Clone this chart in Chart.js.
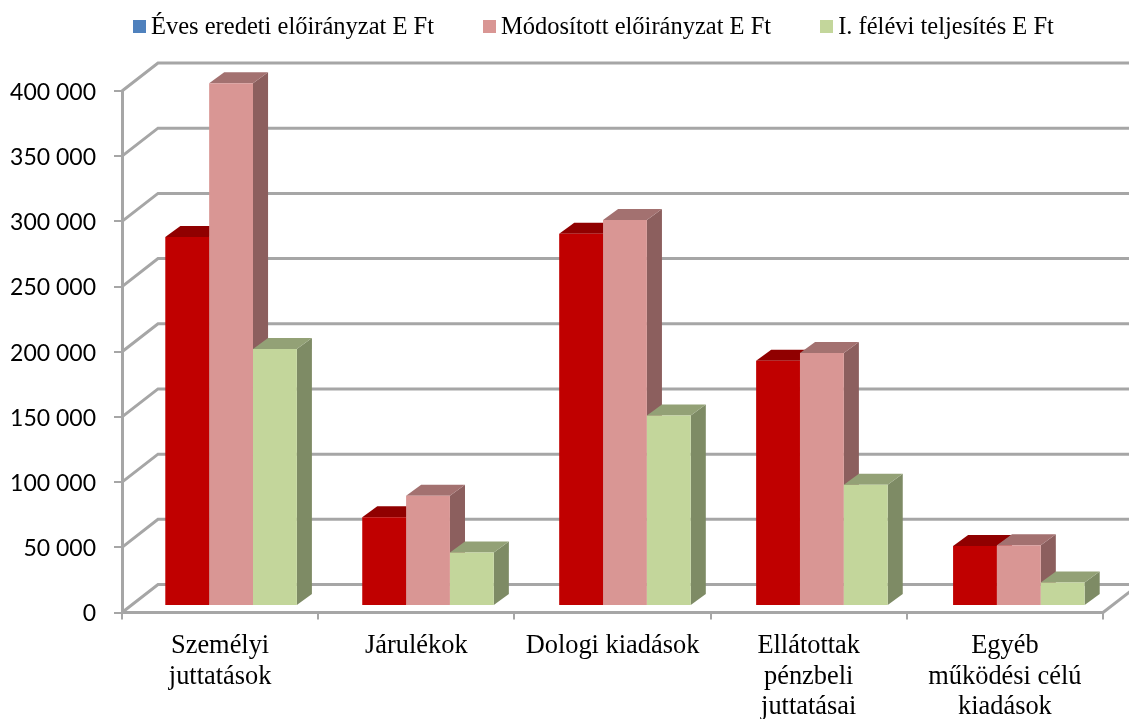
<!DOCTYPE html>
<html>
<head>
<meta charset="utf-8">
<script src="https://cdn.jsdelivr.net/npm/chart.js@4/dist/chart.umd.min.js"></script>
<style>
    body { margin:0; background:#fff; }
    #wrap { position:relative; width:1129px; height:719px; overflow:hidden; }
    #legend { position:absolute; left:133px; top:12px; display:flex; align-items:center;
        font:24.5px "Liberation Serif"; color:#000; white-space:nowrap; line-height:28px; }
    #legend span.box { display:inline-block; width:13px; height:13px; margin-right:5px; }
    #legend div { display:flex; align-items:center; margin-right:49px; }
</style>
</head>
<body>
<div id="wrap">
    <canvas id="chart" width="1129" height="719"></canvas>
    <div id="legend"></div>
</div>
<script>
/* data */

const categories = [
    ["Személyi", "juttatások"],
    "Járulékok",
    "Dologi kiadások",
    ["Ellátottak", "pénzbeli", "juttatásai"],
    ["Egyéb", "működési célú", "kiadások"]
];
const seriesNames = [
    "Éves eredeti előirányzat E Ft",
    "Módosított előirányzat E Ft",
    "I. félévi teljesítés E Ft"
];
const eredeti = [283000, 68000, 285500, 188000, 46000];
const modositott = [400800, 84500, 296000, 194000, 46500];
const teljesites = [197000, 41000, 146000, 93000, 18000];

/* colors */

const frontColors = ["#c00000", "#d99694", "#c3d69b"];
const topColors = ["#900000", "#a37170", "#93a176"];
const sideColors = ["#8f0000", "#8c5f5e", "#7e8b65"];
const legendColors = ["#4f81bd", "#d99694", "#c3d69b"];
const wallColor = "#a6a6a6";

/* 3d look */

const wallDepthX = 36, wallDepthY = 28;
const barDepthX = 15, barDepthY = 11;
const barShiftX = 10.6, barShiftY = -6.6, barStretch = 1.0038;

function drawFaces(chart, index)
{
    const ctx = chart.ctx;
    chart.getDatasetMeta(index).data.forEach(bar => {
        const left = bar.x - bar.width / 2, right = bar.x + bar.width / 2;
        ctx.fillStyle = sideColors[index];
        ctx.beginPath();
        ctx.moveTo(right, bar.y);
        ctx.lineTo(right + barDepthX, bar.y - barDepthY);
        ctx.lineTo(right + barDepthX, bar.base - barDepthY);
        ctx.lineTo(right, bar.base);
        ctx.closePath();
        ctx.fill();
        ctx.fillStyle = topColors[index];
        ctx.beginPath();
        ctx.moveTo(left, bar.y);
        ctx.lineTo(left + barDepthX, bar.y - barDepthY);
        ctx.lineTo(right + barDepthX, bar.y - barDepthY);
        ctx.lineTo(right, bar.y);
        ctx.closePath();
        ctx.fill();
    });
}

const walls = {
    id: "walls",
    beforeDraw(chart) {
        // value labels sit a little under their tick
        chart.scales.y.getLabelItems(chart.chartArea).forEach(item => {
            item.textOffset += 1.5;
        });
    },
    beforeDatasetsDraw(chart) {
        const { ctx, chartArea, scales } = chart;
        ctx.save();
        ctx.strokeStyle = wallColor;
        ctx.lineWidth = 3;
        scales.y.ticks.forEach(t => {
            const y = scales.y.getPixelForValue(t.value);
            ctx.beginPath();
            ctx.moveTo(chartArea.left, y);
            ctx.lineTo(chartArea.left + wallDepthX, y - wallDepthY);
            ctx.lineTo(chartArea.right + wallDepthX, y - wallDepthY);
            ctx.stroke();
        });
        // right edge of the floor
        ctx.beginPath();
        ctx.moveTo(chartArea.right, chartArea.bottom);
        ctx.lineTo(chartArea.right + wallDepthX, chartArea.bottom - wallDepthY);
        ctx.stroke();
        ctx.restore();

        // bars stand a bit inside the floor, first series first so the next one covers it
        ctx.save();
        ctx.transform(barStretch, 0, 0, 1,
            barShiftX + chartArea.left * (1 - barStretch), barShiftY);
        chart.data.datasets.forEach((d, i) => {
            drawFaces(chart, i);
            chart.getDatasetMeta(i).controller.draw();
        });
        ctx.restore();
        return false;
    }
};

/* legend */

seriesNames.forEach((name, i) => {
    const item = document.createElement("div");
    const box = document.createElement("span");
    box.className = "box";
    box.style.background = legendColors[i];
    item.appendChild(box);
    item.appendChild(document.createTextNode(name));
    document.getElementById("legend").appendChild(item);
});

/* chart */

const values = [eredeti, modositott, teljesites];

new Chart(document.getElementById("chart"), {
    type: "bar",
    data: {
        labels: categories,
        datasets: values.map((v, i) => ({
            label: seriesNames[i],
            data: v,
            backgroundColor: frontColors[i],
            categoryPercentage: 0.668,
            barPercentage: 1
        }))
    },
    options: {
        responsive: false,
        animation: false,
        layout: { padding: { top: 91, right: 26, left: 0, bottom: 0 } },
        plugins: { legend: { display: false }, tooltip: { enabled: false } },
        scales: {
            x: {
                afterFit: s => { s.height = 106.5; },
                border: { color: wallColor, width: 3 },
                grid: { drawOnChartArea: false, color: wallColor, lineWidth: 2, tickLength: 7 },
                ticks: {
                    color: "#000",
                    maxRotation: 0,
                    autoSkip: false,
                    padding: 12,
                    font: { family: "Liberation Serif", size: 26.4, lineHeight: 1.14 }
                }
            },
            y: {
                min: 0,
                max: 400000,
                afterFit: s => { s.width = 122; },
                border: { color: wallColor, width: 3 },
                grid: { drawOnChartArea: false, color: wallColor, lineWidth: 2, tickLength: 8 },
                ticks: {
                    stepSize: 50000,
                    color: "#000",
                    padding: 18,
                    font: { family: "Lato", size: 23 },
                    callback: v => String(v).replace(/\B(?=(\d{3})+$)/g, " ")
                }
            }
        }
    },
    plugins: [walls]
});
</script>
</body>
</html>
